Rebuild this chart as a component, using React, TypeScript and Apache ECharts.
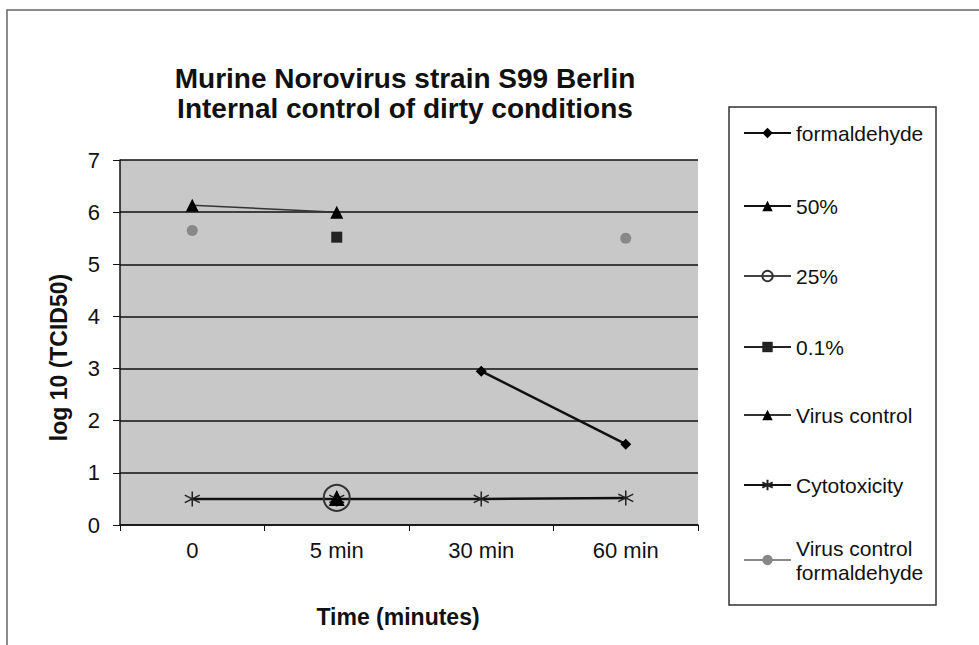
import React, { useEffect, useRef } from "react";
import * as echarts from "echarts";

const categories = ["0", "5 min", "30 min", "60 min"];
const formaldehyde = [null, null, 2.95, 1.55];
const pct50 = [null, 0.52, null, null];
const pct25 = [null, 0.52, null, null];
const pct01 = [null, 5.52, null, null];
const virusControl = [6.13, 6.0, null, null];
const cytotoxicity = [0.5, 0.5, 0.5, 0.52];
const virusControlFormaldehyde = [5.65, null, null, 5.5];
const yTicks = [0, 1, 2, 3, 4, 5, 6, 7];

const FONT = 'Arial, "Liberation Sans", sans-serif';
const ASTERISK = "path://M0,-10L0,10M-8.66,-5L8.66,5M-8.66,5L8.66,-5";

export default function App() {
  const ref = useRef<HTMLDivElement>(null);
  useEffect(() => {
    if (!ref.current) return;
    const chart = echarts.init(ref.current, null, { renderer: "svg" });
    const legendItem = (name: string, top: number, lh = 22) => ({
      data: [name],
      left: 743,
      top,
      orient: "vertical",
      padding: 0,
      itemWidth: 47,
      itemHeight: 13,
      selectedMode: false,
      textStyle: { fontSize: 21, fontFamily: FONT, color: "#111", lineHeight: lh },
    });
    chart.setOption({
      animation: false,
      backgroundColor: "#ffffff",
      title: {
        text: "Murine Norovirus strain S99 Berlin\nInternal control of dirty conditions",
        left: 400,
        top: 58,
        textAlign: "center",
        textStyle: { fontSize: 28, fontWeight: "bold", fontFamily: FONT, color: "#111", lineHeight: 30 },
      },
      graphic: [
        {
          type: "rect",
          shape: { x: 7, y: 10, width: 1100, height: 1000 },
          style: { fill: "none", stroke: "#666", lineWidth: 1.5 },
          silent: true,
        },
        {
          type: "rect",
          shape: { x: 729, y: 107, width: 207, height: 498 },
          style: { fill: "#fff", stroke: "#333", lineWidth: 1.5 },
          silent: true,
          z: -1,
        },
      ],
      legend: [
        legendItem("formaldehyde", 122),
        legendItem("50%", 195),
        legendItem("25%", 265),
        legendItem("0.1%", 336),
        legendItem("Virus control", 404),
        legendItem("Cytotoxicity", 474),
        legendItem("Virus control\nformaldehyde", 536, 24),
      ],
      grid: { left: 120, top: 160, right: 281, bottom: 120, show: true, backgroundColor: "#c8c8c8", borderWidth: 0 },
      xAxis: {
        type: "category",
        data: categories,
        boundaryGap: true,
        name: "Time (minutes)",
        nameLocation: "middle",
        nameGap: 80,
        nameTextStyle: { fontSize: 23, fontWeight: "bold", fontFamily: FONT, color: "#111", padding: [0, 22, 0, 0] },
        axisLine: { lineStyle: { color: "#111", width: 1.5 } },
        axisTick: { show: true, length: 6, lineStyle: { color: "#111" } },
        axisLabel: { fontSize: 22, fontFamily: FONT, color: "#111", margin: 14 },
      },
      yAxis: {
        type: "value",
        min: yTicks[0],
        max: yTicks[yTicks.length - 1],
        interval: 1,
        name: "log 10 (TCID50)",
        nameLocation: "middle",
        nameGap: 50,
        nameTextStyle: { fontSize: 23, fontWeight: "bold", fontFamily: FONT, color: "#111", padding: [0, 30, 0, 0] },
        axisLine: { show: true, lineStyle: { color: "#111", width: 1.5 } },
        axisTick: { show: true, length: 7, lineStyle: { color: "#111" } },
        axisLabel: { fontSize: 22, fontFamily: FONT, color: "#111", margin: 20 },
        splitLine: { show: true, lineStyle: { color: "#111", width: 1.5 } },
      },
      series: [
        {
          name: "formaldehyde",
          type: "line",
          data: formaldehyde,
          symbol: "diamond",
          symbolSize: 11,
          itemStyle: { color: "#000" },
          lineStyle: { color: "#111", width: 2.5 },
          z: 3,
        },
        {
          name: "50%",
          type: "line",
          data: pct50,
          symbol: "triangle",
          symbolSize: 16,
          itemStyle: { color: "#000" },
          lineStyle: { color: "#111", width: 3 },
          z: 4,
        },
        {
          name: "25%",
          type: "line",
          data: pct25,
          symbol: "circle",
          symbolSize: 26,
          itemStyle: { color: "transparent", borderColor: "#333", borderWidth: 2 },
          lineStyle: { color: "#444", width: 1.2 },
          z: 5,
        },
        {
          name: "0.1%",
          type: "line",
          data: pct01,
          symbol: "rect",
          symbolSize: 11,
          itemStyle: { color: "#222" },
          lineStyle: { color: "#222", width: 2.5 },
          z: 3,
        },
        {
          name: "Virus control",
          type: "line",
          data: virusControl,
          symbol: "triangle",
          symbolSize: 13,
          itemStyle: { color: "#000" },
          lineStyle: { color: "#333", width: 1.5 },
          z: 3,
        },
        {
          name: "Cytotoxicity",
          type: "line",
          data: cytotoxicity,
          symbol: ASTERISK,
          symbolSize: 15,
          itemStyle: { color: "transparent", borderColor: "#222", borderWidth: 1.5 },
          lineStyle: { color: "#111", width: 2.5 },
          z: 2,
        },
        {
          name: "Virus control\nformaldehyde",
          type: "line",
          data: virusControlFormaldehyde,
          symbol: "circle",
          symbolSize: 11,
          connectNulls: false,
          itemStyle: { color: "#888" },
          lineStyle: { color: "#888", width: 2.5 },
          z: 3,
        },
      ],
    });
    return () => chart.dispose();
  }, []);
  return <div ref={ref} style={{ position: "fixed", left: 0, top: 0, width: 979, height: 645 }} />;
}
